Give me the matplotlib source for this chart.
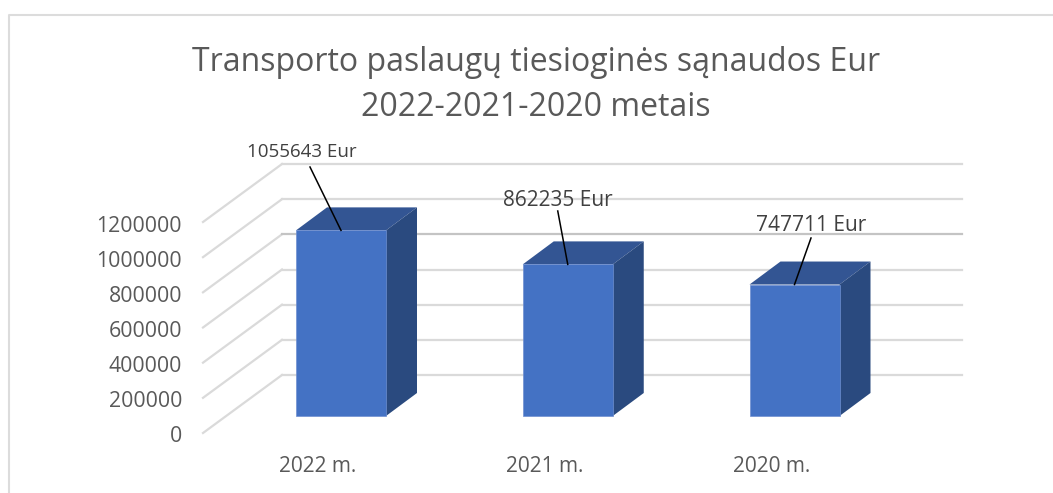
import matplotlib
matplotlib.use('Agg')
import matplotlib.pyplot as plt
from matplotlib.patches import Polygon, Rectangle

years = ['2022 m.', '2021 m.', '2020 m.']
costs = [1055643, 862235, 747711]
labels = ['1055643 Eur', '862235 Eur', '747711 Eur']
ticks = [0, 200000, 400000, 600000, 800000, 1000000, 1200000]
title = 'Transporto paslaugų tiesioginės sąnaudos Eur\n2022-2021-2020 metais'

W, H = 1053, 493
plt.rcParams['font.family'] = ['Open Sans', 'DejaVu Sans']

fig = plt.figure(figsize=(W / 100, H / 100), dpi=100)
ax = fig.add_axes([0, 0, 1, 1])

# one category = 226.75 px, 1200000 = 211 px, bar base sits at y=416 px
cat_px = 226.75
val_px = 211 / 1200000
ax.set_xlim(-341 / cat_px, (W - 341) / cat_px)
ax.set_ylim(-(H - 416) / val_px, 416 / val_px)
ax.axis('off')

def dx(px):
    return px / cat_px

def dy(px):
    return px / val_px

# chart frame, only left and top show in the crop
ax.plot([dx(9 - 341), dx(9 - 341), dx(W - 341)], [dy(416 - H), dy(416 - 15), dy(416 - 15)],
        color='#dcdcdc', lw=1.5, zorder=0)

# gridlines: side wall and back wall
x_front = dx(203 - 341)
x_back = dx(282 - 341)
x_end = dx(962 - 341)
for t in ticks:
    y_front = t + dy(-17)
    y_back = t + dy(41)
    ax.plot([x_front, x_back], [y_front, y_back], color='#dadada', lw=1.6, zorder=1)
    col = '#c4c4c4' if t == 800000 else '#dadada'
    ax.plot([x_back, x_end], [y_back, y_back], color=col, lw=1.6, zorder=1)
    ax.text(dx(182 - 341), y_front - dy(4), str(t), ha='right', va='center', fontsize=15.3, color='#595959')

# bars, faked 3d: front, top, side
half = dx(45)
off_x = dx(31)
off_y = dy(23)
for i, v in enumerate(costs):
    l, r = i - half, i + half
    ax.add_patch(Polygon([(l, v), (l + off_x, v + off_y), (r + off_x, v + off_y), (r, v)],
                         fc='#335593', ec='none', zorder=3))
    ax.add_patch(Polygon([(r, 0), (r + off_x, off_y), (r + off_x, v + off_y), (r, v)],
                         fc='#2a4a7f', ec='none', zorder=3))
    ax.add_patch(Rectangle((l, 0), r - l, v, fc='#4472c4', ec='#6f8fd0', lw=0.5, zorder=4))
    ax.text(i - dx(23), dy(416 - 466), years[i], ha='center', va='center', fontsize=15, color='#595959')

# data labels with leader lines, offsets in px from bar centre
label_off = [302 - 341, 558 - 568, 811 - 794.5]
label_top = [152, 200, 225]
label_size = [13.5, 15, 15]
line_top = [(310 - 341, 167), (558 - 568, 211), (811 - 794.5, 238)]
for i, v in enumerate(costs):
    ax.text(i + dx(label_off[i]), dy(416 - label_top[i]), labels[i], ha='center', va='center',
            fontsize=label_size[i], color='#404040', zorder=6)
    ax.plot([i, i + dx(line_top[i][0])], [v, dy(416 - line_top[i][1])], color='black', lw=1.1, zorder=5)

ax.text(dx(536 - 341), dy(416 - 85), title, ha='center', va='center', fontsize=23,
        color='#595959', linespacing=1.45)

fig.savefig('out.png', dpi=100)
